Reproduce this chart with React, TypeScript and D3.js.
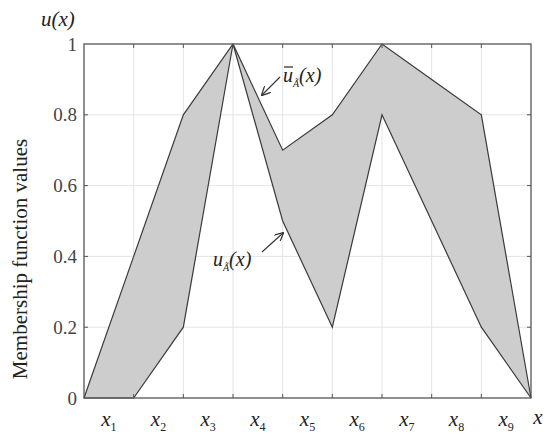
import React, { useEffect, useRef } from "react";
import * as d3 from "d3";

const xIndex = [0, 1, 2, 3, 4, 5, 6, 7, 8, 9];
const upperValues = [0, 0.4, 0.8, 1, 0.7, 0.8, 1, 0.9, 0.8, 0];
const lowerValues = [0, 0, 0.2, 1, 0.5, 0.2, 0.8, 0.5, 0.2, 0];
const yTicks = [0, 0.2, 0.4, 0.6, 0.8, 1];
const xLabels = ["1", "2", "3", "4", "5", "6", "7", "8", "9"];

const App = () => {
  const ref = useRef<SVGSVGElement>(null);

  useEffect(() => {
    const svg = d3.select(ref.current);
    svg.selectAll("*").remove();

    const width = 550;
    const height = 439;
    const margin = { top: 44, right: 19, bottom: 41, left: 84 };
    const font = "'Liberation Serif', 'DejaVu Serif', serif";

    const x = d3.scaleLinear().domain([0, 9]).range([margin.left, width - margin.right]);
    const y = d3.scaleLinear().domain([0, 1]).range([height - margin.bottom, margin.top]);

    svg.attr("width", width).attr("height", height);

    const defs = svg.append("defs");
    defs
      .append("marker")
      .attr("id", "arr")
      .attr("viewBox", "0 0 10 10")
      .attr("refX", 9)
      .attr("refY", 5)
      .attr("markerWidth", 9)
      .attr("markerHeight", 9)
      .attr("markerUnits", "userSpaceOnUse")
      .attr("orient", "auto")
      .append("path")
      .attr("d", "M0,0 L10,5 L0,10")
      .attr("fill", "none")
      .attr("stroke", "#333")
      .attr("stroke-width", 1.4);

    // grid
    const grid = svg.append("g").attr("stroke", "#e4e4e4").attr("stroke-width", 1);
    xIndex.slice(1, -1).forEach((i) => {
      grid.append("line").attr("x1", x(i)).attr("x2", x(i)).attr("y1", y(0)).attr("y2", y(1));
    });
    yTicks.slice(1, -1).forEach((t) => {
      grid.append("line").attr("x1", x(0)).attr("x2", x(9)).attr("y1", y(t)).attr("y2", y(t));
    });

    // band between upper and lower
    const area = d3
      .area<number>()
      .x((d) => x(d))
      .y0((d) => y(lowerValues[d]))
      .y1((d) => y(upperValues[d]));
    svg.append("path").datum(xIndex).attr("d", area).attr("fill", "#cdcdcd");

    const line = (vals: number[]) =>
      d3
        .line<number>()
        .x((d) => x(d))
        .y((d) => y(vals[d]))(xIndex);
    [upperValues, lowerValues].forEach((vals) => {
      svg
        .append("path")
        .attr("d", line(vals))
        .attr("fill", "none")
        .attr("stroke", "#3a3a3a")
        .attr("stroke-width", 1.2);
    });

    // box
    svg
      .append("rect")
      .attr("x", x(0))
      .attr("y", y(1))
      .attr("width", x(9) - x(0))
      .attr("height", y(0) - y(1))
      .attr("fill", "none")
      .attr("stroke", "#555")
      .attr("stroke-width", 1.3);

    // ticks
    const ticks = svg.append("g").attr("stroke", "#555").attr("stroke-width", 1);
    xIndex.slice(1, -1).forEach((i) => {
      ticks.append("line").attr("x1", x(i)).attr("x2", x(i)).attr("y1", y(0)).attr("y2", y(0) - 4);
      ticks.append("line").attr("x1", x(i)).attr("x2", x(i)).attr("y1", y(1)).attr("y2", y(1) + 4);
    });
    yTicks.slice(1, -1).forEach((t) => {
      ticks.append("line").attr("x1", x(0)).attr("x2", x(0) + 4).attr("y1", y(t)).attr("y2", y(t));
      ticks.append("line").attr("x1", x(9)).attr("x2", x(9) - 4).attr("y1", y(t)).attr("y2", y(t));
    });

    // y tick labels
    svg
      .append("g")
      .selectAll("text")
      .data(yTicks)
      .enter()
      .append("text")
      .attr("x", x(0) - 7)
      .attr("y", (d) => y(d))
      .attr("dy", "0.35em")
      .attr("text-anchor", "end")
      .attr("fill", "#444")
      .style("font-family", font)
      .style("font-size", "19px")
      .text((d) => d3.format("~g")(d));

    // x labels
    const xl = svg
      .append("g")
      .selectAll("text")
      .data(xLabels)
      .enter()
      .append("text")
      .attr("x", (d, i) => x(i + 0.5))
      .attr("y", y(0) + 28)
      .attr("text-anchor", "middle")
      .attr("fill", "#222")
      .style("font-family", font)
      .style("font-size", "21px")
      .style("font-style", "italic");
    xl.append("tspan").text("x");
    xl.append("tspan")
      .attr("dy", 5)
      .style("font-size", "12px")
      .style("font-style", "normal")
      .text((d) => d);

    svg
      .append("text")
      .attr("x", x(9) + 7)
      .attr("y", y(0) + 26)
      .attr("text-anchor", "middle")
      .attr("fill", "#222")
      .style("font-family", font)
      .style("font-size", "21px")
      .style("font-style", "italic")
      .text("x");

    // axis titles
    svg
      .append("text")
      .attr("transform", `translate(27,259) rotate(-90)`)
      .attr("text-anchor", "middle")
      .attr("fill", "#222")
      .style("font-family", font)
      .style("font-size", "21px")
      .text("Membership function values");

    svg
      .append("text")
      .attr("x", 41)
      .attr("y", 26)
      .attr("fill", "#222")
      .style("font-family", font)
      .style("font-size", "21px")
      .style("font-style", "italic")
      .text("u(x)");

    // annotation: upper membership
    svg
      .append("line")
      .attr("x1", 280)
      .attr("y1", 77)
      .attr("x2", 262)
      .attr("y2", 95)
      .attr("stroke", "#333")
      .attr("stroke-width", 1.1)
      .attr("marker-end", "url(#arr)");
    const up = svg
      .append("text")
      .attr("x", 283)
      .attr("y", 82)
      .attr("fill", "#222")
      .style("font-family", font)
      .style("font-size", "20px")
      .style("font-style", "italic");
    up.append("tspan").text("u");
    up.append("tspan").attr("dy", 5).style("font-size", "10px").text("Ã");
    up.append("tspan").attr("dy", -5).text("(x)");
    svg
      .append("line")
      .attr("x1", 284)
      .attr("x2", 293)
      .attr("y1", 67)
      .attr("y2", 67)
      .attr("stroke", "#222")
      .attr("stroke-width", 1.2);

    // annotation: lower membership
    svg
      .append("line")
      .attr("x1", 262)
      .attr("y1", 252)
      .attr("x2", 283)
      .attr("y2", 233)
      .attr("stroke", "#333")
      .attr("stroke-width", 1.1)
      .attr("marker-end", "url(#arr)");
    const lo = svg
      .append("text")
      .attr("x", 213)
      .attr("y", 266)
      .attr("fill", "#222")
      .style("font-family", font)
      .style("font-size", "20px")
      .style("font-style", "italic");
    lo.append("tspan").text("u");
    lo.append("tspan").attr("dy", 5).style("font-size", "10px").text("Ã");
    lo.append("tspan").attr("dy", -5).text("(x)");
  }, []);

  return (
    <svg
      ref={ref}
      style={{ position: "absolute", left: 0, top: 0, background: "#fff" }}
    ></svg>
  );
};

export default App;
